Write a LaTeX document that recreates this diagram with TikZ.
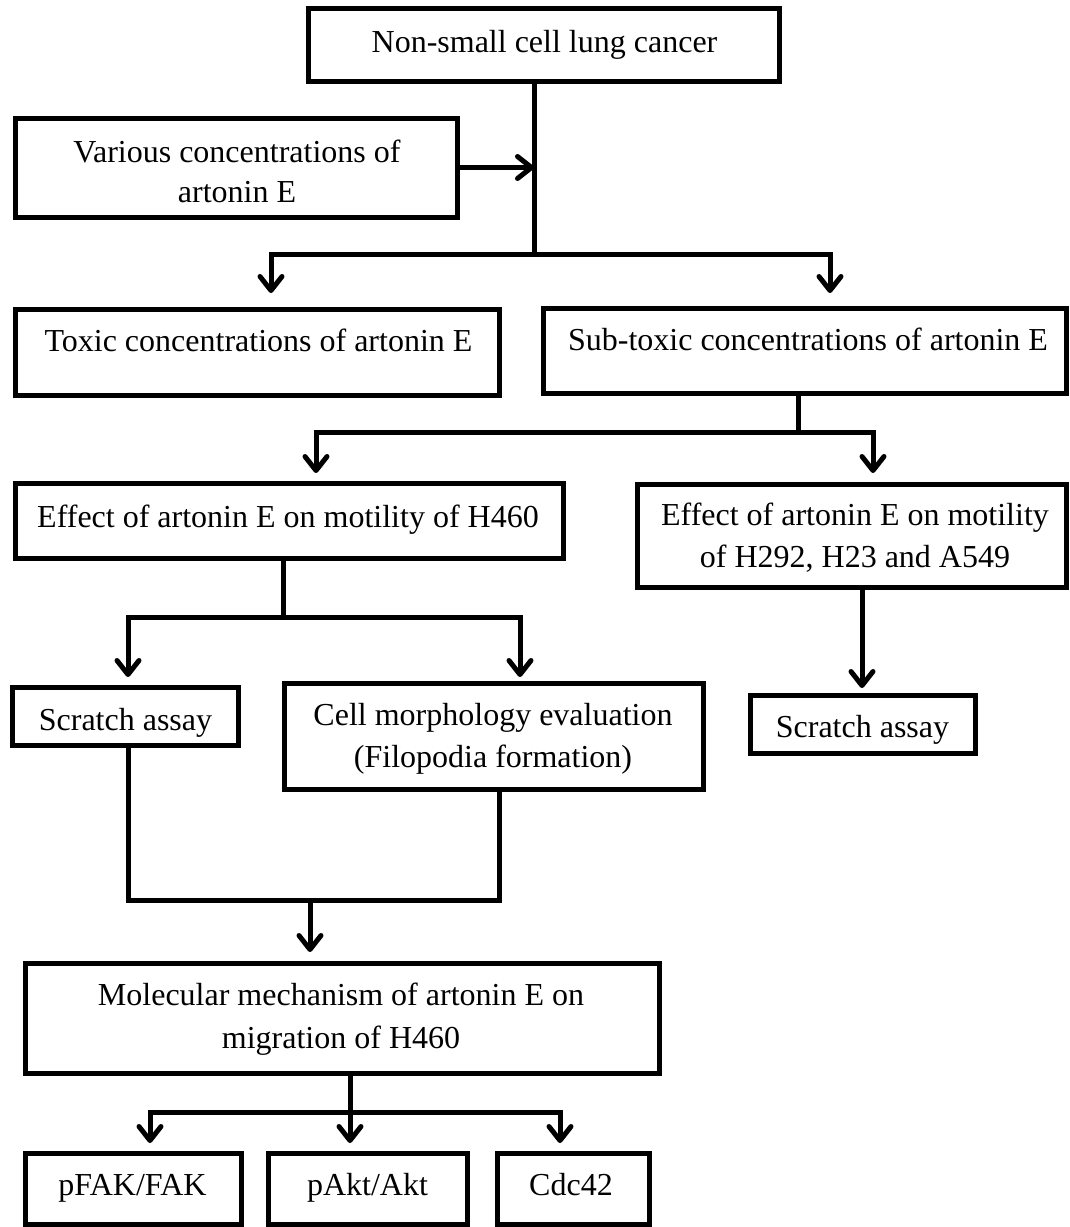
\documentclass[tikz,border=0pt]{standalone}
\usepackage{fontspec}
\setmainfont{Liberation Serif}
\usetikzlibrary{arrows.meta}
\begin{document}
\begin{tikzpicture}[x=1pt,y=-1pt,
  box/.style={draw, line width=5pt, inner sep=0pt, outer sep=0pt},
  txt/.style={inner sep=0pt, anchor=base, align=center, font=\fontsize{32}{42}\selectfont},
  ln/.style={line width=5pt},
  arr/.style={line width=5pt, -{Straight Barb[length=14pt,width=22pt,round]}}]
\useasboundingbox (0,0) rectangle (1070,1227);

% boxes
\node[box, minimum width=471pt, minimum height=73pt]  (top)      at (543.5,44.5)  {};
\node[box, minimum width=442pt, minimum height=99pt]  (various)  at (236,167.5)   {};
\node[box, minimum width=484pt, minimum height=86pt]  (toxic)    at (257,352)     {};
\node[box, minimum width=523pt, minimum height=85pt]  (subtoxic) at (804.5,350.5) {};
\node[box, minimum width=548pt, minimum height=75pt]  (effA)     at (289,520.5)   {};
\node[box, minimum width=429pt, minimum height=103pt] (effB)     at (851.5,535.5) {};
\node[box, minimum width=226pt, minimum height=58pt]  (scrA)     at (125,716)     {};
\node[box, minimum width=419pt, minimum height=106pt] (cell)     at (493.5,736)   {};
\node[box, minimum width=225pt, minimum height=58pt]  (scrB)     at (862.5,724)   {};
\node[box, minimum width=634pt, minimum height=110pt] (mol)      at (342,1018)    {};
\node[box, minimum width=216pt, minimum height=71pt]  (pfak)     at (133,1188.5)  {};
\node[box, minimum width=199pt, minimum height=71pt]  (pakt)     at (367.5,1188.5){};
\node[box, minimum width=152pt, minimum height=71pt]  (cdc)      at (573,1188.5)  {};

% texts (base anchor = baseline of the last line)
\node[txt] (topT)      at (544.5,52)  {Non-small cell lung cancer};
\node[txt, font=\fontsize{32}{40}\selectfont] (variousT) at (237,202) {Various concentrations of\\artonin E};
\node[txt] (toxicT)    at (258.5,351) {Toxic concentrations of artonin E};
\node[txt] (subtoxicT) at (808,350)   {Sub-toxic concentrations of artonin E};
\node[txt] (effAT)     at (288,527)   {Effect of artonin E on motility of H460};
\node[txt] (effBT)     at (855,567)   {Effect of artonin E on motility\\of H292, H23 and A549};
\node[txt] (scrAT)     at (125.5,730) {Scratch assay};
\node[txt] (cellT)     at (493,767)   {Cell morphology evaluation\\(Filopodia formation)};
\node[txt] (scrBT)     at (862.5,737) {Scratch assay};
\node[txt, font=\fontsize{32}{43}\selectfont] (molT) at (341,1048) {Molecular mechanism of artonin E on\\migration of H460};
\node[txt] (pfakT)     at (132.5,1195){pFAK/FAK};
\node[txt] (paktT)     at (367.5,1195){pAkt/Akt};
\node[txt] (cdcT)      at (571,1195)  {Cdc42};

% junctions and arrow ends
\coordinate (j1) at (534,254);
\coordinate (t1) at (271,293);
\coordinate (t2) at (830,293);
\coordinate (j2) at (798,432);
\coordinate (t3) at (316,473);
\coordinate (t4) at (873,473);
\coordinate (j3) at (283,617);
\coordinate (t5) at (128,677);
\coordinate (t6) at (520,677);
\coordinate (t7) at (862,688);
\coordinate (jl) at (128,900);
\coordinate (jr) at (499,900);
\coordinate (t8) at (310,952);
\coordinate (j5) at (350,1112);
\coordinate (t9) at (150,1143);
\coordinate (t10) at (350,1143);
\coordinate (t11) at (560,1143);

% connectors
\draw[ln] (top.south -| j1) -- (j1);
\draw[arr] (various.east) -- (various.east -| j1);
\draw[arr] (j1) -| (t1);
\draw[arr] (j1) -| (t2);

\draw[ln] (subtoxic.south -| j2) -- (j2);
\draw[arr] (j2) -| (t3);
\draw[arr] (j2) -| (t4);

\draw[ln] (effA.south -| j3) -- (j3);
\draw[arr] (j3) -| (t5);
\draw[arr] (j3) -| (t6);

\draw[arr] (effB.south -| t7) -- (t7);

\draw[ln] (scrA.south -| jl) -- (jl) -- (jr) -- (cell.south -| jr);
\draw[arr] (t8 |- jl) -- (t8);

\draw[ln] (mol.south -| j5) -- (j5);
\draw[arr] (j5) -| (t9);
\draw[arr] (j5) -- (t10);
\draw[arr] (j5) -| (t11);
\end{tikzpicture}
\end{document}
